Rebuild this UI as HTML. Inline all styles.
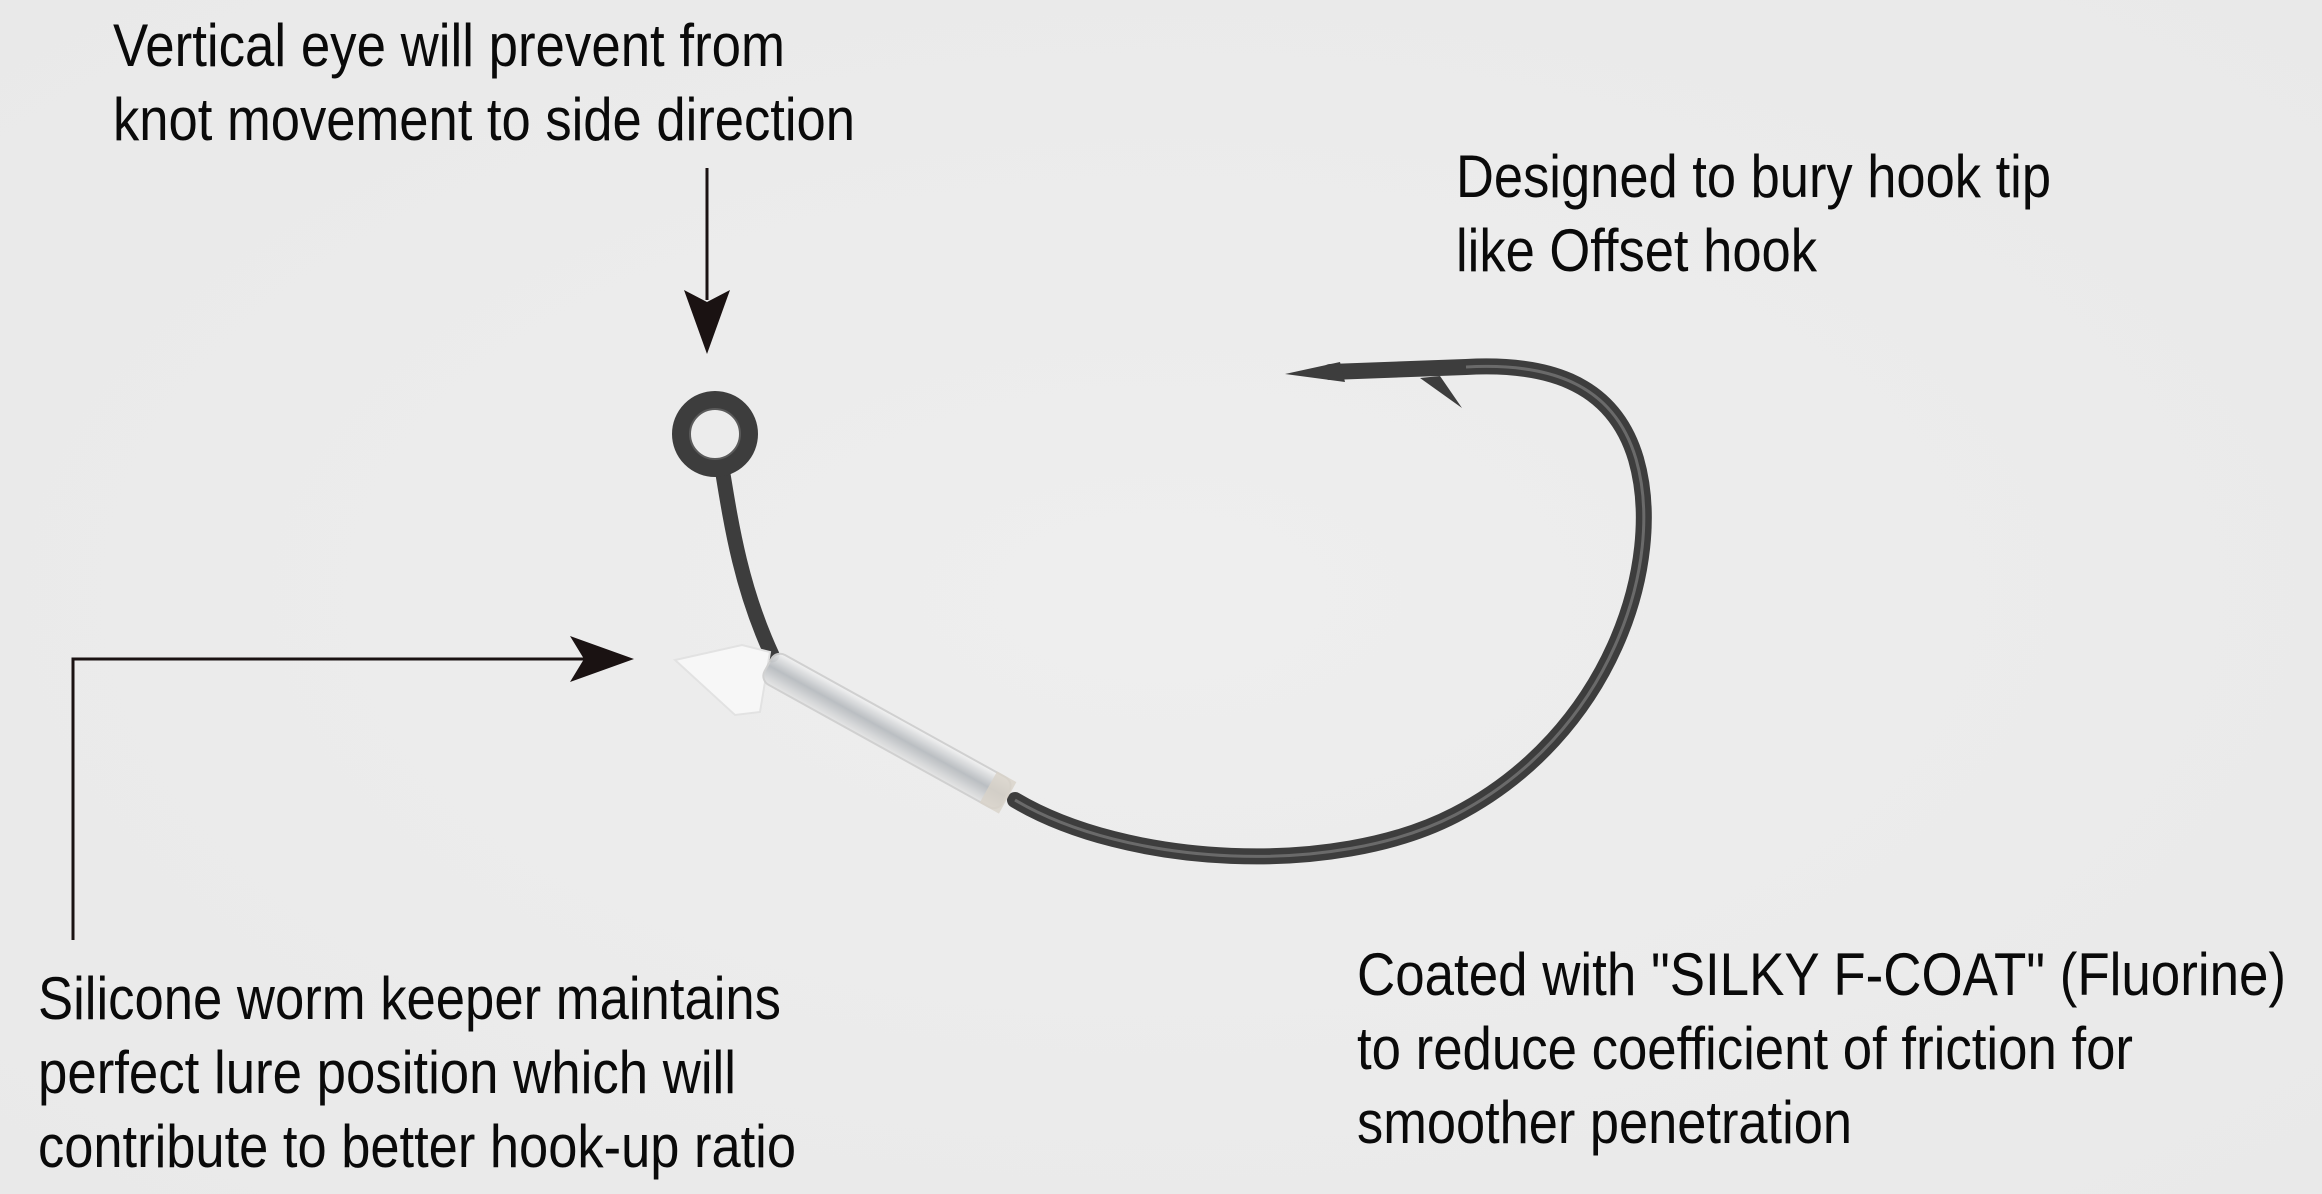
<!DOCTYPE html>
<html><head><meta charset="utf-8"><style>
html,body{margin:0;padding:0;background:#ececec;}
svg{display:block;}
text{font-family:"Liberation Sans",sans-serif;font-size:60px;fill:#0a0a0a;}
</style></head><body>
<svg width="2322" height="1194" viewBox="0 0 2322 1194" xmlns="http://www.w3.org/2000/svg">
<defs>
<radialGradient id="bg" cx="0.5" cy="0.5" r="0.7">
<stop offset="0" stop-color="#eeeeee"/><stop offset="1" stop-color="#e9e9e9"/>
</radialGradient>
<linearGradient id="tube" x1="0" y1="0" x2="0" y2="1">
<stop offset="0" stop-color="#f4f4f4"/><stop offset="0.5" stop-color="#b8bcc0"/><stop offset="1" stop-color="#e6e6e6"/>
</linearGradient>
</defs>
<rect width="2322" height="1194" fill="url(#bg)"/>

<text x="113" y="66" textLength="672" lengthAdjust="spacingAndGlyphs">Vertical eye will prevent from</text>
<text x="113" y="140" textLength="742" lengthAdjust="spacingAndGlyphs">knot movement to side direction</text>

<text x="1456" y="197" textLength="595" lengthAdjust="spacingAndGlyphs">Designed to bury hook tip</text>
<text x="1456" y="271" textLength="361" lengthAdjust="spacingAndGlyphs">like Offset hook</text>

<text x="38" y="1019" textLength="743" lengthAdjust="spacingAndGlyphs">Silicone worm keeper maintains</text>
<text x="38" y="1093" textLength="698" lengthAdjust="spacingAndGlyphs">perfect lure position which will</text>
<text x="38" y="1167" textLength="758" lengthAdjust="spacingAndGlyphs">contribute to better hook-up ratio</text>

<text x="1357" y="995" textLength="929" lengthAdjust="spacingAndGlyphs">Coated with "SILKY F-COAT" (Fluorine)</text>
<text x="1357" y="1069" textLength="776" lengthAdjust="spacingAndGlyphs">to reduce coefficient of friction for</text>
<text x="1357" y="1143" textLength="495" lengthAdjust="spacingAndGlyphs">smoother penetration</text>

<line x1="707" y1="168" x2="707" y2="300" stroke="#1a1212" stroke-width="3"/>
<polygon points="684,290 707,302 730,290 707,354" fill="#1a1212"/>

<polyline points="73,940 73,659 590,659" fill="none" stroke="#1a1212" stroke-width="3"/>
<polygon points="570,636 584,659 570,682 634,659" fill="#1a1212"/>

<path d="M722,468 C732,530 742,590 772,655" fill="none" stroke="#3d3d3d" stroke-width="15" stroke-linecap="round"/>
<path d="M1015,800 C1126,866 1333,878 1455,815 C1610,735 1666,563 1636,459 C1612,378 1540,363 1466,367 L1330,372" fill="none" stroke="#3d3d3d" stroke-width="16" stroke-linecap="round"/>
<path d="M1015,800 C1126,866 1333,878 1455,815 C1610,735 1666,563 1636,459 C1612,378 1540,363 1466,367" fill="none" stroke="#6a6a6a" stroke-width="3"/>
<polygon points="1285,374 1340,362 1345,382" fill="#3d3d3d"/>
<polygon points="1420,378 1462,408 1440,376" fill="#3d3d3d"/>

<circle cx="715" cy="434" r="34" fill="none" stroke="#3d3d3d" stroke-width="18"/>
<circle cx="715" cy="434" r="25" fill="none" stroke="#5a5a5a" stroke-width="2"/>

<polygon points="675,660 742,645 770,652 760,712 735,715" fill="#f7f7f7" stroke="#e2e2e2" stroke-width="2"/>
<g transform="translate(768,665) rotate(29)">
<rect x="0" y="-17" width="272" height="34" rx="10" fill="url(#tube)" stroke="#cfcfcf" stroke-width="2" opacity="0.95"/>
<rect x="252" y="-18" width="22" height="36" fill="#d8d2c8" opacity="0.8"/>
</g>
</svg>
</body></html>
